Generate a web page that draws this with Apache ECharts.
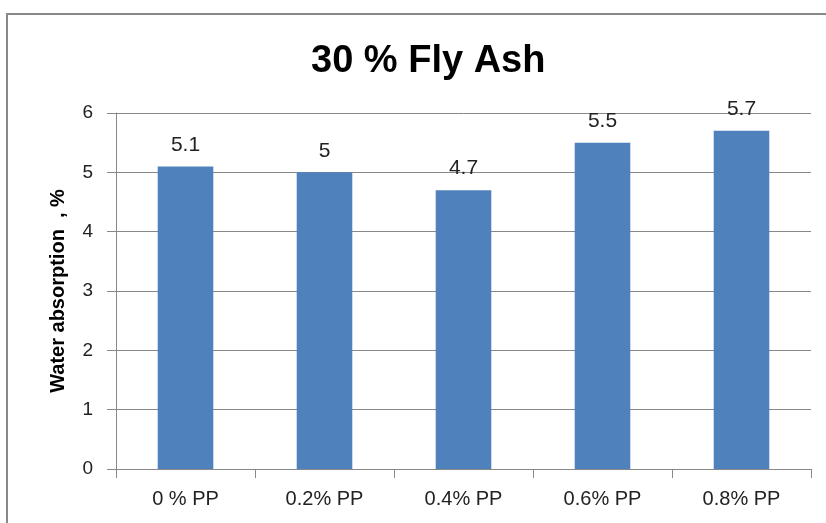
<!DOCTYPE html>
<html>
<head>
<meta charset="utf-8">
<script src="https://cdn.jsdelivr.net/npm/echarts@6/dist/echarts.min.js"></script>
<style>
  html, body { margin: 0; padding: 0; background: #fff; }
  #chart { width: 826px; height: 523px; }
</style>
</head>
<body>
<div id="chart"></div>
<script>
// Water absorption of mixes with 30 % fly ash and varying PP fibre content
const categories = ['0 % PP', '0.2% PP', '0.4% PP', '0.6% PP', '0.8% PP'];
const absorption = [5.1, 5, 4.7, 5.5, 5.7];
const yTicks = [0, 1, 2, 3, 4, 5, 6];

const FONT = '"Liberation Sans", Arial, sans-serif';
const chart = echarts.init(document.getElementById('chart'));

chart.setOption({
  animation: false,
  backgroundColor: '#fff',
  title: {
    text: '30 % Fly Ash',
    left: 306,
    top: 38,
    textStyle: { fontFamily: FONT, fontSize: 38, fontWeight: 'bold', color: '#000' }
  },
  graphic: [
    // outer chart frame (left and top edges)
    { type: 'polyline', shape: { points: [[7, 523], [7, 14], [826, 14]] },
      style: { stroke: '#888', lineWidth: 2, fill: null } }
  ],
  grid: { left: 116, right: 15, top: 113, bottom: 54 },
  xAxis: {
    type: 'category',
    data: categories,
    axisLine: { lineStyle: { color: '#888' } },
    axisTick: { show: true, length: 9, lineStyle: { color: '#888' } },
    axisLabel: { color: '#222', fontFamily: FONT, fontSize: 20, margin: 20 }
  },
  yAxis: {
    type: 'value',
    min: yTicks[0],
    max: yTicks[yTicks.length - 1],
    interval: 1,
    name: 'Water absorption  , %',
    nameLocation: 'middle',
    nameGap: 48,
    nameTextStyle: { fontFamily: FONT, fontSize: 20, fontWeight: 'bold', color: '#000' },
    axisLine: { show: true, lineStyle: { color: '#888' } },
    axisTick: { show: true, length: 9, lineStyle: { color: '#888' } },
    axisLabel: { color: '#222', fontFamily: FONT, fontSize: 19, margin: 23 },
    splitLine: { lineStyle: { color: '#888' } }
  },
  series: [{
    type: 'bar',
    data: absorption,
    barWidth: '40%',
    itemStyle: { color: '#4F81BD' },
    label: {
      show: true,
      position: 'top',
      distance: 11,
      color: '#222',
      fontFamily: FONT,
      fontSize: 21
    }
  }]
});
</script>
</body>
</html>
